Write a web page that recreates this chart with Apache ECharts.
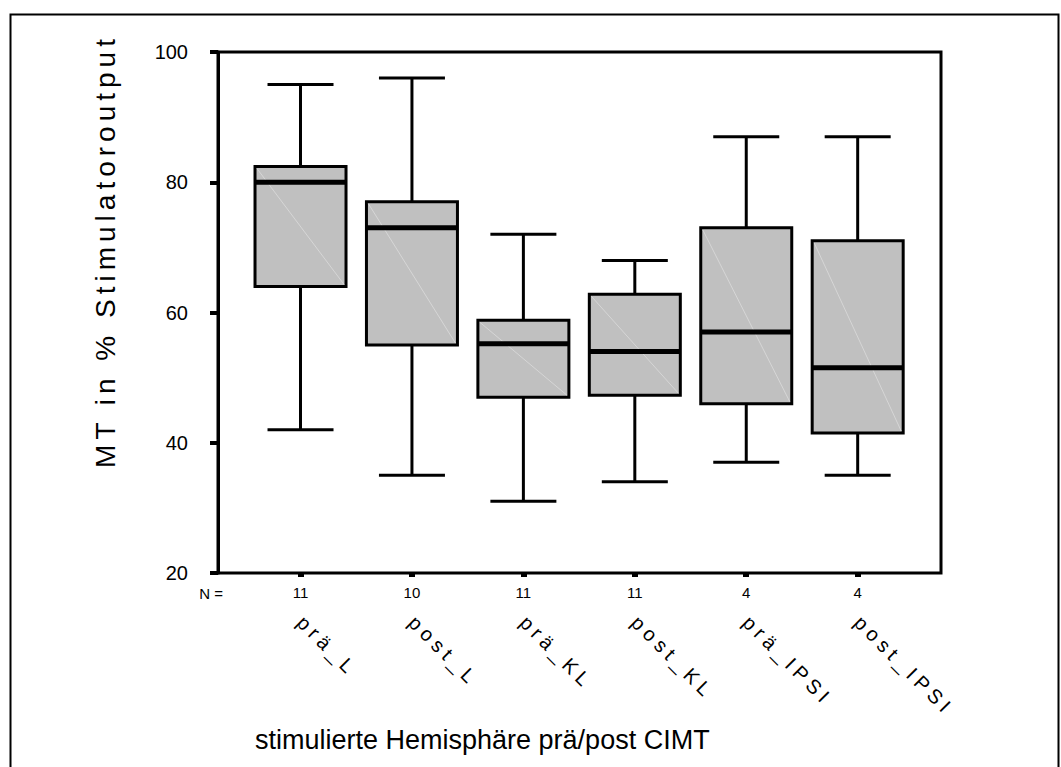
<!DOCTYPE html>
<html>
<head>
<meta charset="utf-8">
<title>MT in % Stimulatoroutput</title>
<script src="https://cdn.jsdelivr.net/npm/echarts@6/dist/echarts.min.js"></script>
<style>
  html, body { margin: 0; padding: 0; background: #fff; }
  #chart { width: 1061px; height: 767px; }
</style>
</head>
<body>
<div id="chart"></div>
<script>
// groups and sample sizes (N =)
const categories = ["prä_L", "post_L", "prä_KL", "post_KL", "prä_IPSI", "post_IPSI"];
const counts = [11, 10, 11, 11, 4, 4];

// box statistics
const lowWhisker = [42, 35, 31, 34, 37, 35];
const q1 = [64, 55, 47, 47.3, 46, 41.5];
const median = [80, 73, 55.2, 54, 57, 51.5];
const q3 = [82.4, 77, 58.8, 62.8, 73, 71];
const highWhisker = [95, 96, 72, 68, 87, 87];

const yTicks = [20, 40, 60, 80, 100];
const yTitle = "MT in % Stimulatoroutput";
const xTitle = "stimulierte Hemisphäre prä/post CIMT";

const FONT = '"Liberation Sans", Arial, sans-serif';

const boxData = categories.map((c, i) => [i, lowWhisker[i], q1[i], median[i], q3[i], highWhisker[i]]);

const line = (x1, y1, x2, y2, w, color) => ({
    type: "line",
    shape: { x1, y1, x2, y2 },
    style: { stroke: color || "#000", lineWidth: w }
});

function renderBox(params, api) {
    const i = api.value(0);
    const lo = api.coord([i, api.value(1)]);
    const b1 = api.coord([i, api.value(2)]);
    const md = api.coord([i, api.value(3)]);
    const b3 = api.coord([i, api.value(4)]);
    const hi = api.coord([i, api.value(5)]);
    const cx = lo[0];
    const half = 45.5;
    const cap = 33;
    return {
        type: "group",
        children: [
            line(cx, hi[1], cx, b3[1], 3),
            line(cx, lo[1], cx, b1[1], 3),
            line(cx - cap, hi[1], cx + cap, hi[1], 3),
            line(cx - cap, lo[1], cx + cap, lo[1], 3),
            {
                type: "rect",
                shape: { x: cx - half, y: b3[1], width: half * 2, height: b1[1] - b3[1] },
                style: { fill: "#c0c0c0", stroke: "#000", lineWidth: 3 }
            },
            line(cx - half + 2, b3[1] + 2, cx + half - 2, b1[1] - 2, 1, "#d6d6d6"),
            line(cx - half, md[1], cx + half, md[1], 5)
        ]
    };
}

const chartDom = document.getElementById("chart");
const myChart = echarts.init(chartDom, null, { renderer: "svg" });

const option = {
    animation: false,
    backgroundColor: "#fff",
    grid: {
        left: 244.8,
        right: 147.6,
        top: 52,
        bottom: 194
    },
    xAxis: [
        {
            type: "category",
            data: categories,
            position: "bottom",
            axisLine: { show: false },
            axisTick: { show: true, alignWithLabel: true, length: 4, lineStyle: { color: "#000", width: 6 } },
            axisLabel: {
                interval: 0,
                margin: 12,
                fontSize: 15,
                fontFamily: FONT,
                color: "#000",
                formatter: (value, idx) => String(counts[idx])
            },
            splitLine: { show: false }
        },
        {
            type: "category",
            data: categories,
            position: "bottom",
            axisLine: { show: false },
            axisTick: { show: false },
            axisLabel: {
                interval: 0,
                rotate: -45,
                margin: 46,
                fontSize: 20,
                fontFamily: FONT,
                color: "#000"
            },
            splitLine: { show: false }
        }
    ],
    yAxis: {
        type: "value",
        min: yTicks[0],
        max: yTicks[yTicks.length - 1],
        interval: yTicks[1] - yTicks[0],
        offset: 26.8,
        axisLine: { show: true, lineStyle: { color: "#000", width: 3 } },
        axisTick: { show: true, length: 8, lineStyle: { color: "#000", width: 4 } },
        axisLabel: { margin: 30, fontSize: 20, fontFamily: FONT, color: "#000" },
        splitLine: { show: false }
    },
    graphic: [
        {
            type: "rect",
            shape: { x: 10.5, y: 14.5, width: 1048, height: 800 },
            style: { fill: "none", stroke: "#000", lineWidth: 2 },
            silent: true
        },
        {
            type: "rect",
            shape: { x: 218, y: 52, width: 723, height: 521 },
            style: { fill: "none", stroke: "#000", lineWidth: 3 },
            silent: true
        },
        {
            type: "text",
            x: 105,
            y: 251,
            rotation: Math.PI / 2,
            style: {
                text: yTitle, fontSize: 28, fontFamily: FONT, fill: "#000",
                textAlign: "center", align: "center", textVerticalAlign: "middle", verticalAlign: "middle"
            }
        },
        {
            type: "text",
            x: 255,
            y: 740,
            style: {
                text: xTitle, fontSize: 27, fontFamily: FONT, fill: "#000",
                textAlign: "left", align: "left", textVerticalAlign: "middle", verticalAlign: "middle"
            }
        },
        {
            type: "text",
            x: 223,
            y: 593,
            style: {
                text: "N =", fontSize: 15, fontFamily: FONT, fill: "#000",
                textAlign: "right", align: "right", textVerticalAlign: "middle", verticalAlign: "middle"
            }
        }
    ],
    series: [
        {
            type: "custom",
            name: "MT",
            xAxisIndex: 0,
            renderItem: renderBox,
            encode: { x: 0, y: [1, 2, 3, 4, 5] },
            data: boxData
        }
    ]
};

myChart.setOption(option);

// the original prints group names and the y title letter-spaced
const spaced = new Set(categories.concat([yTitle]));
const spaceLetters = () => {
    chartDom.querySelectorAll("svg text").forEach(t => {
        if (spaced.has(t.textContent)) t.style.letterSpacing = "5px";
    });
};
spaceLetters();
myChart.on("finished", spaceLetters);
</script>
</body>
</html>
